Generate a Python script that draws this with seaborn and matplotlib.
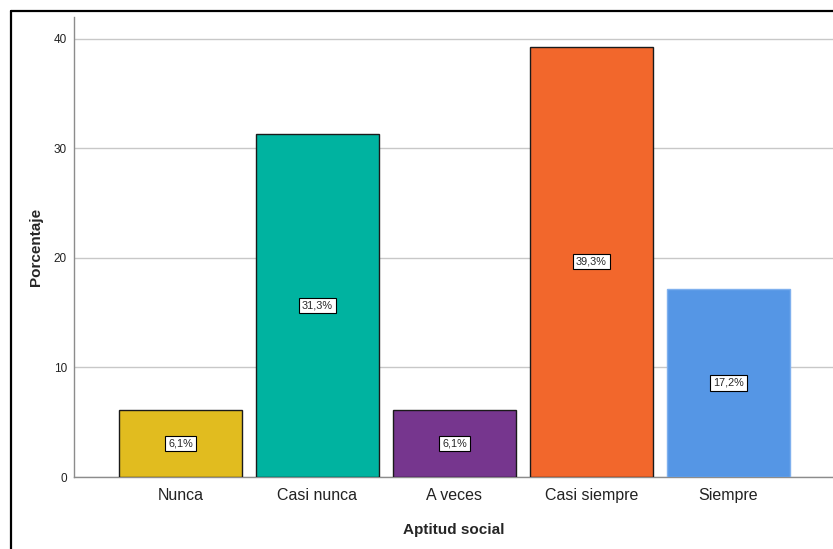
import matplotlib
matplotlib.use("Agg")
import matplotlib.pyplot as plt
import seaborn as sns
import pandas as pd
from matplotlib.lines import Line2D

# Datos
categorias = ["Nunca", "Casi nunca", "A veces", "Casi siempre", "Siempre"]
porcentajes = [6.1, 31.3, 6.1, 39.3, 17.2]
etiquetas = ["6,1%", "31,3%", "6,1%", "39,3%", "17,2%"]
colores = ["#E1BC1F", "#00B3A0", "#76368E", "#F2672C", "#5596E5"]
bordes = ["#1a1a1a", "#1a1a1a", "#1a1a1a", "#1a1a1a", "#7FB0EE"]
yticks = [0, 10, 20, 30, 40]

sns.set_style("white")
plt.rcParams['font.family'] = ['Liberation Sans', 'DejaVu Sans']

df = pd.DataFrame({"cat": categorias, "pct": porcentajes})

fig = plt.figure(figsize=(8.33, 5.49), dpi=100)
ax = fig.add_axes([74 / 833, 1 - 477 / 549, 1 - 74 / 833, (477 - 17) / 549])

sns.barplot(data=df, x="cat", y="pct", hue="cat", palette=colores, legend=False,
            width=0.898, saturation=1, ax=ax, zorder=3)

for patch, ec in zip(ax.patches, bordes):
    patch.set_edgecolor(ec)
    patch.set_linewidth(1.0)

# etiquetas en el centro de cada barra
for i, (v, t) in enumerate(zip(porcentajes, etiquetas)):
    ax.text(i, v / 2, t, ha="center", va="center", fontsize=7.8, zorder=5,
            bbox=dict(boxstyle="square,pad=0.25", facecolor="white", edgecolor="black", linewidth=0.8))

ax.set_xlim(-0.777, 4.763)
ax.set_ylim(0, 42.0)
ax.set_yticks(yticks)
ax.yaxis.grid(True, color="#C8C8C8", linewidth=1.0, zorder=0)
ax.set_axisbelow(True)

for s in ["top", "right"]:
    ax.spines[s].set_visible(False)
for s in ["left", "bottom"]:
    ax.spines[s].set_color("#8C8C8C")
    ax.spines[s].set_linewidth(1.0)

ax.tick_params(axis="y", length=0, pad=5, labelsize=8.5, labelcolor="#222222")
ax.tick_params(axis="x", length=0, pad=8, labelsize=11.5, labelcolor="#222222")

ax.set_xlabel("Aptitud social", fontsize=11, fontweight="bold", labelpad=14)
ax.set_ylabel("Porcentaje", fontsize=11, fontweight="bold", labelpad=8)

# marco negro de la figura (solo izquierda y arriba visibles)
fig.add_artist(Line2D([11 / 833, 11 / 833], [0, 1 - 10.5 / 549], color="black", linewidth=1.6,
                      transform=fig.transFigure))
fig.add_artist(Line2D([11 / 833, 1], [1 - 10.5 / 549, 1 - 10.5 / 549], color="black", linewidth=1.6,
                      transform=fig.transFigure))

fig.savefig("out.png", dpi=100)
